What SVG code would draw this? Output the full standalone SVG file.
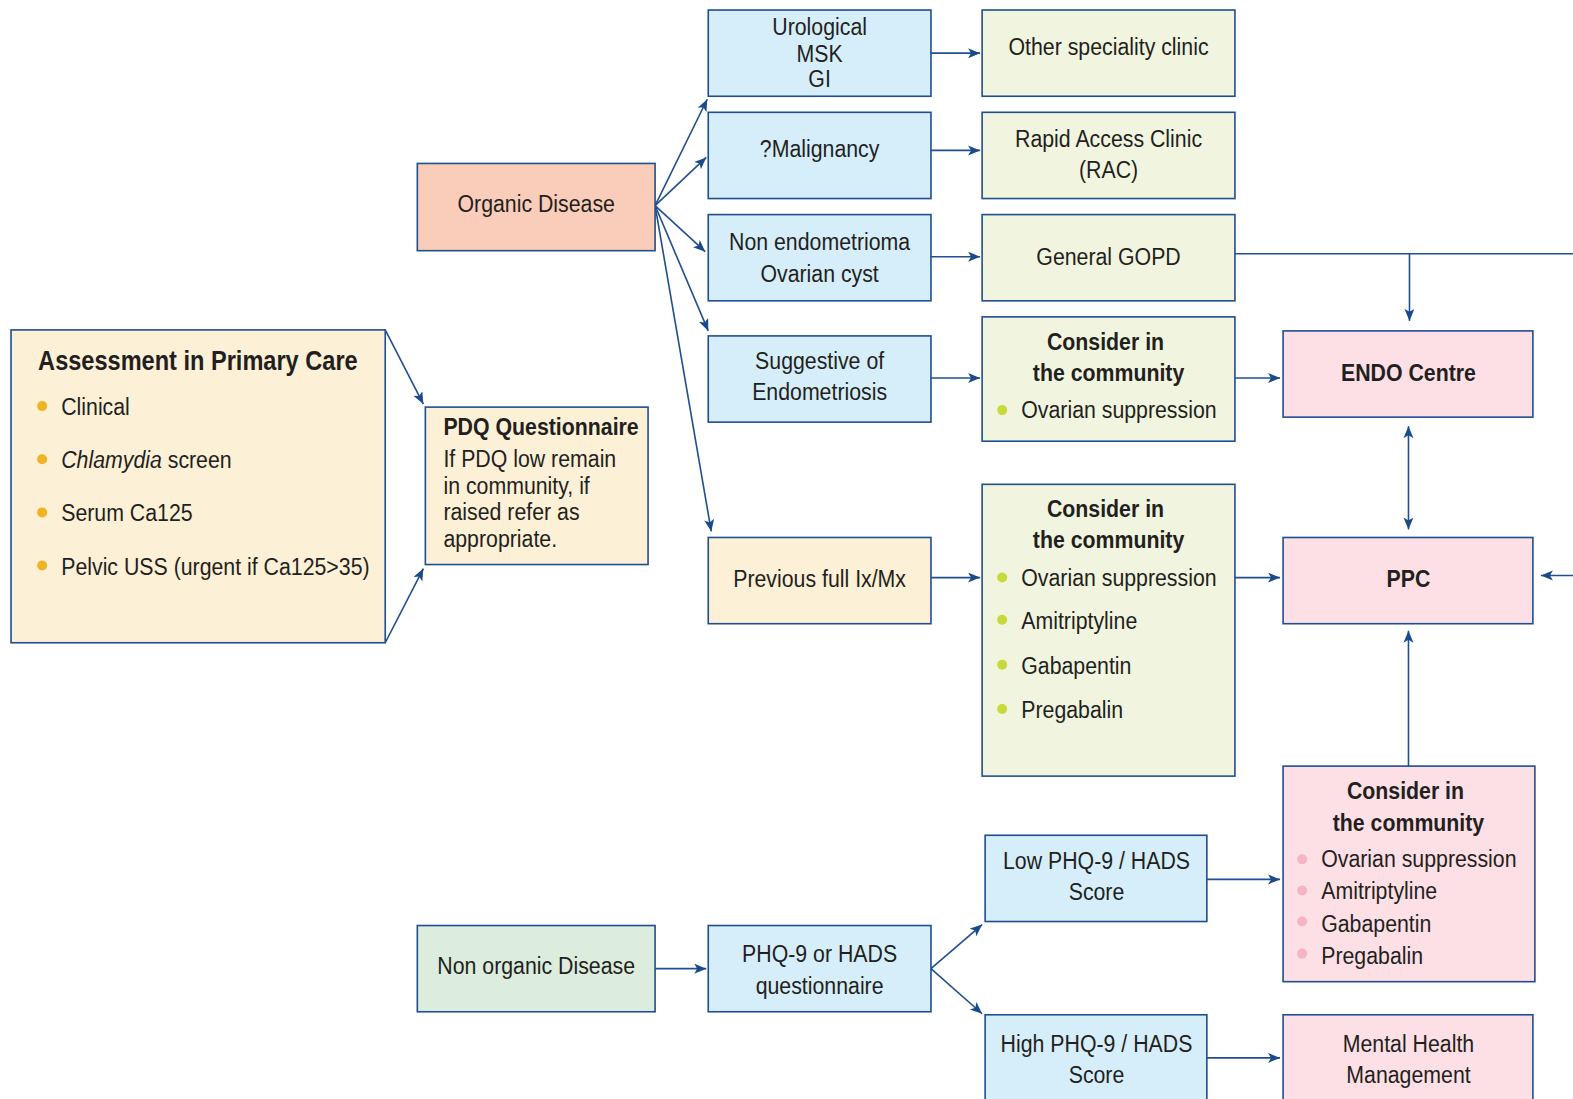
<svg xmlns="http://www.w3.org/2000/svg" width="1573" height="1099" viewBox="0 0 1573 1099">
<style>
text{font-family:"Liberation Sans",Arial,sans-serif;font-size:24px;fill:#231f20}
.c{text-anchor:middle}
.b{font-weight:bold}
.box{stroke:#1f4f8f;stroke-width:1.6}
.blue{fill:#d6eefa}.green{fill:#f1f5df}.cream{fill:#fcf0d7}.salmon{fill:#f9cdb9}.mint{fill:#dcecdd}.pink{fill:#fde0e6}
.ln{stroke:#1f4f8f;stroke-width:1.6;fill:none;marker-end:url(#ah)}
.ln0{stroke:#1f4f8f;stroke-width:1.6;fill:none}
.dy{fill:#f0b323}.dg{fill:#c8d93c}.dp{fill:#f4b4c3}
</style>
<defs>
<marker id="ah" markerUnits="userSpaceOnUse" markerWidth="14" markerHeight="12" refX="12" refY="5" orient="auto-start-reverse">
<path d="M0,0 L12,5 L0,10 L3,5 z" fill="#1a4a8a"/>
</marker>
</defs>
<g transform="scale(1.00319,1.00274)">
<g id="connectors">
<path class="ln" d="M384,329 L422,403"/>
<path class="ln" d="M384,641 L422,567"/>
<path class="ln" d="M653,205 L705,99"/>
<path class="ln" d="M653,205 L704,157"/>
<path class="ln" d="M653,205 L703,251"/>
<path class="ln" d="M653,205 L706,330"/>
<path class="ln" d="M653,205 L709,530"/>
<path class="ln" d="M928,53 L977,53"/>
<path class="ln" d="M928,150 L977,150"/>
<path class="ln" d="M928,256 L977,256"/>
<path class="ln" d="M928,377 L977,377"/>
<path class="ln" d="M928,576 L977,576"/>
<path class="ln" d="M1231,377 L1276,377"/>
<path class="ln" d="M1231,576 L1276,576"/>
<path class="ln0" d="M1231,253 L1575,253"/>
<path class="ln" d="M1405,253 L1405,320"/>
<path class="ln" style="marker-start:url(#ah)" d="M1404,425 L1404,528"/>
<path class="ln" d="M1575,574 L1536,574"/>
<path class="ln" d="M1404,764 L1404,629"/>
<path class="ln" d="M653,966 L704,966"/>
<path class="ln" d="M928,966 L979,922"/>
<path class="ln" d="M928,966 L979,1011"/>
<path class="ln" d="M1203,877 L1276,877"/>
<path class="ln" d="M1203,1055 L1276,1055"/>
</g>
<g id="assessment">
<rect class="box cream" x="11" y="329" width="373" height="312"/>
<text class="b" style="font-size:27px" transform="translate(38,369) scale(.87,1)">Assessment in Primary Care</text>
<circle class="dy" cx="42" cy="405" r="5"/><text transform="translate(61,414) scale(.885,1)">Clinical</text>
<circle class="dy" cx="42" cy="458" r="5"/><text transform="translate(61,467) scale(.885,1)"><tspan font-style="italic">Chlamydia</tspan> screen</text>
<circle class="dy" cx="42" cy="511" r="5"/><text transform="translate(61,520) scale(.885,1)">Serum Ca125</text>
<circle class="dy" cx="42" cy="564" r="5"/><text transform="translate(61,573) scale(.885,1)">Pelvic USS (urgent if Ca125&gt;35)</text>
</g>
<g id="pdq">
<rect class="box cream" x="424" y="406" width="222" height="157"/>
<text class="b" transform="translate(442,434) scale(.885,1)">PDQ Questionnaire</text>
<text transform="translate(442,466) scale(.885,1)">If PDQ low remain</text>
<text transform="translate(442,493) scale(.885,1)">in community, if</text>
<text transform="translate(442,519) scale(.885,1)">raised refer as</text>
<text transform="translate(442,546) scale(.885,1)">appropriate.</text>
</g>
<g id="organic">
<rect class="box salmon" x="416" y="163" width="237" height="87"/>
<text class="c" transform="translate(534.5,211) scale(.885,1)">Organic Disease</text>
</g>
<g id="nonorganic">
<rect class="box mint" x="416" y="923" width="237" height="86"/>
<text class="c" transform="translate(534.5,971) scale(.885,1)">Non organic Disease</text>
</g>
<g id="urological">
<rect class="box blue" x="706" y="10" width="222" height="86"/>
<text class="c" transform="translate(817,35) scale(.885,1)">Urological</text>
<text class="c" transform="translate(817,62) scale(.885,1)">MSK</text>
<text class="c" transform="translate(817,87) scale(.885,1)">GI</text>
</g>
<g id="malignancy">
<rect class="box blue" x="706" y="112" width="222" height="86"/>
<text class="c" transform="translate(817,157) scale(.885,1)">?Malignancy</text>
</g>
<g id="nonendo">
<rect class="box blue" x="706" y="214" width="222" height="86"/>
<text class="c" transform="translate(817,249) scale(.885,1)">Non endometrioma</text>
<text class="c" transform="translate(817,281) scale(.885,1)">Ovarian cyst</text>
</g>
<g id="suggestive">
<rect class="box blue" x="706" y="335" width="222" height="86"/>
<text class="c" transform="translate(817,368) scale(.885,1)">Suggestive of</text>
<text class="c" transform="translate(817,399) scale(.885,1)">Endometriosis</text>
</g>
<g id="previous">
<rect class="box cream" x="706" y="536" width="222" height="86"/>
<text class="c" transform="translate(817,585) scale(.885,1)">Previous full Ix/Mx</text>
</g>
<g id="phq">
<rect class="box blue" x="706" y="923" width="222" height="86"/>
<text class="c" transform="translate(817,959) scale(.885,1)">PHQ-9 or HADS</text>
<text class="c" transform="translate(817,991) scale(.885,1)">questionnaire</text>
</g>
<g id="other">
<rect class="box green" x="979" y="10" width="252" height="86"/>
<text class="c" transform="translate(1105,55) scale(.885,1)">Other speciality clinic</text>
</g>
<g id="rac">
<rect class="box green" x="979" y="112" width="252" height="86"/>
<text class="c" transform="translate(1105,147) scale(.885,1)">Rapid Access Clinic</text>
<text class="c" transform="translate(1105,178) scale(.885,1)">(RAC)</text>
</g>
<g id="gopd">
<rect class="box green" x="979" y="214" width="252" height="86"/>
<text class="c" transform="translate(1105,264) scale(.885,1)">General GOPD</text>
</g>
<g id="consider1">
<rect class="box green" x="979" y="316" width="252" height="124"/>
<text class="c b" transform="translate(1102,349) scale(.885,1)">Consider in</text>
<text class="c b" transform="translate(1105,380) scale(.885,1)">the community</text>
<circle class="dg" cx="999" cy="409" r="5"/><text transform="translate(1018,417) scale(.885,1)">Ovarian suppression</text>
</g>
<g id="consider2">
<rect class="box green" x="979" y="483" width="252" height="291"/>
<text class="c b" transform="translate(1102,516) scale(.885,1)">Consider in</text>
<text class="c b" transform="translate(1105,547) scale(.885,1)">the community</text>
<circle class="dg" cx="999" cy="576" r="5"/><text transform="translate(1018,584) scale(.885,1)">Ovarian suppression</text>
<circle class="dg" cx="999" cy="618" r="5"/><text transform="translate(1018,627) scale(.885,1)">Amitriptyline</text>
<circle class="dg" cx="999" cy="663" r="5"/><text transform="translate(1018,672) scale(.885,1)">Gabapentin</text>
<circle class="dg" cx="999" cy="707" r="5"/><text transform="translate(1018,716) scale(.885,1)">Pregabalin</text>
</g>
<g id="lowphq">
<rect class="box blue" x="982" y="833" width="221" height="86"/>
<text class="c" transform="translate(1093,867) scale(.885,1)">Low PHQ-9 / HADS</text>
<text class="c" transform="translate(1093,898) scale(.885,1)">Score</text>
</g>
<g id="highphq">
<rect class="box blue" x="982" y="1012" width="221" height="100"/>
<text class="c" transform="translate(1093,1049) scale(.885,1)">High PHQ-9 / HADS</text>
<text class="c" transform="translate(1093,1080) scale(.885,1)">Score</text>
</g>
<g id="endo">
<rect class="box pink" x="1279" y="330" width="249" height="86"/>
<text class="c b" transform="translate(1404,380) scale(.885,1)">ENDO Centre</text>
</g>
<g id="ppc">
<rect class="box pink" x="1279" y="536" width="249" height="86"/>
<text class="c b" transform="translate(1404,585) scale(.885,1)">PPC</text>
</g>
<g id="consider3">
<rect class="box pink" x="1279" y="764" width="251" height="215"/>
<text class="c b" transform="translate(1401,797) scale(.885,1)">Consider in</text>
<text class="c b" transform="translate(1404,829) scale(.885,1)">the community</text>
<circle class="dp" cx="1298" cy="857" r="5"/><text transform="translate(1317,865) scale(.885,1)">Ovarian suppression</text>
<circle class="dp" cx="1298" cy="888" r="5"/><text transform="translate(1317,897) scale(.885,1)">Amitriptyline</text>
<circle class="dp" cx="1298" cy="919" r="5"/><text transform="translate(1317,929) scale(.885,1)">Gabapentin</text>
<circle class="dp" cx="1298" cy="951" r="5"/><text transform="translate(1317,961) scale(.885,1)">Pregabalin</text>
</g>
<g id="mental">
<rect class="box pink" x="1279" y="1012" width="249" height="100"/>
<text class="c" transform="translate(1404,1049) scale(.885,1)">Mental Health</text>
<text class="c" transform="translate(1404,1080) scale(.885,1)">Management</text>
</g>
</g>
</svg>
